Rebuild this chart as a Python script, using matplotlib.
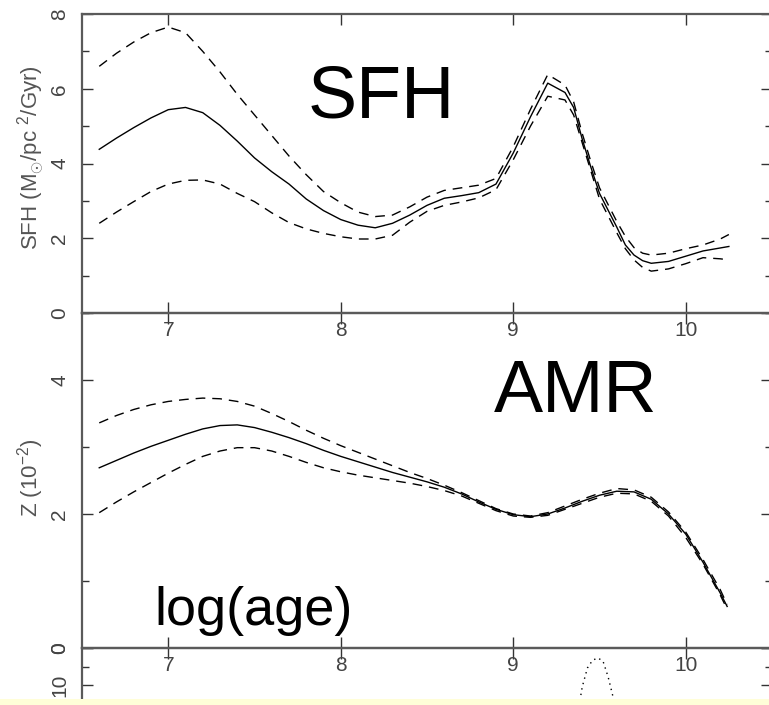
import matplotlib
matplotlib.use("Agg")
import matplotlib.pyplot as plt
from matplotlib.patches import Rectangle
from matplotlib.ticker import MultipleLocator

plt.rcParams["font.family"] = ["Liberation Sans", "DejaVu Sans"]
plt.rcParams["mathtext.fontset"] = "custom"
plt.rcParams["mathtext.rm"] = "Liberation Sans"
plt.rcParams["mathtext.it"] = "Liberation Sans"
plt.rcParams["lines.scale_dashes"] = False

# ---- star formation history (M_sun / pc^2 / Gyr) vs log(age) ----
sfh_x = [6.60, 6.70, 6.80, 6.90, 7.00, 7.10, 7.20, 7.30, 7.40, 7.50, 7.60, 7.70,
         7.80, 7.90, 8.00, 8.10, 8.20, 8.30, 8.40, 8.50, 8.60, 8.70, 8.80, 8.90,
         9.00, 9.10, 9.20, 9.30, 9.35, 9.40, 9.45, 9.50, 9.55, 9.60, 9.65, 9.70,
         9.75, 9.80, 9.90, 10.00, 10.10, 10.20, 10.25]
sfh_mid = [4.38, 4.68, 4.96, 5.22, 5.44, 5.50, 5.36, 5.02, 4.60, 4.15, 3.78, 3.45,
           3.05, 2.74, 2.50, 2.35, 2.28, 2.40, 2.62, 2.88, 3.07, 3.14, 3.22, 3.45,
           4.28, 5.25, 6.15, 5.90, 5.50, 4.65, 3.90, 3.20, 2.75, 2.30, 1.82, 1.55,
           1.40, 1.33, 1.38, 1.52, 1.66, 1.74, 1.78]
sfh_hi = [6.60, 6.95, 7.25, 7.50, 7.65, 7.50, 7.00, 6.45, 5.85, 5.30, 4.75, 4.20,
          3.70, 3.25, 2.95, 2.70, 2.58, 2.62, 2.84, 3.10, 3.28, 3.35, 3.42, 3.60,
          4.45, 5.45, 6.38, 6.10, 5.65, 4.80, 4.05, 3.35, 2.90, 2.45, 2.05, 1.75,
          1.60, 1.55, 1.60, 1.72, 1.82, 1.98, 2.10]
sfh_lo = [2.40, 2.70, 2.98, 3.25, 3.45, 3.55, 3.56, 3.45, 3.20, 2.98, 2.68, 2.42,
          2.25, 2.13, 2.04, 1.98, 1.98, 2.08, 2.43, 2.72, 2.88, 2.97, 3.08, 3.30,
          4.10, 5.00, 5.80, 5.70, 5.30, 4.55, 3.80, 3.05, 2.60, 2.15, 1.72, 1.42,
          1.22, 1.12, 1.18, 1.32, 1.48, 1.45, 1.42]

# ---- age-metallicity relation, Z in units of 1e-2 ----
amr_x = [6.60, 6.70, 6.80, 6.90, 7.00, 7.10, 7.20, 7.30, 7.40, 7.50, 7.60, 7.70,
         7.80, 7.90, 8.00, 8.10, 8.20, 8.30, 8.40, 8.50, 8.60, 8.70, 8.80, 8.90,
         9.00, 9.10, 9.20, 9.30, 9.40, 9.50, 9.60, 9.70, 9.80, 9.90, 10.00, 10.10,
         10.20, 10.24]
amr_mid = [2.69, 2.80, 2.91, 3.01, 3.10, 3.19, 3.27, 3.32, 3.33, 3.29, 3.22, 3.14,
           3.05, 2.95, 2.86, 2.78, 2.70, 2.62, 2.55, 2.48, 2.40, 2.30, 2.18, 2.07,
           1.99, 1.96, 2.00, 2.09, 2.19, 2.28, 2.34, 2.33, 2.22, 2.00, 1.70, 1.28,
           0.82, 0.62]
amr_hi = [3.36, 3.47, 3.56, 3.63, 3.68, 3.71, 3.73, 3.72, 3.68, 3.61, 3.50, 3.38,
          3.25, 3.13, 3.02, 2.92, 2.82, 2.72, 2.62, 2.53, 2.43, 2.32, 2.20, 2.08,
          2.00, 1.97, 2.02, 2.12, 2.22, 2.31, 2.38, 2.36, 2.25, 2.03, 1.73, 1.32,
          0.87, 0.65]
amr_lo = [2.02, 2.18, 2.33, 2.47, 2.61, 2.74, 2.86, 2.94, 2.99, 2.99, 2.94, 2.86,
          2.77, 2.69, 2.63, 2.58, 2.54, 2.50, 2.46, 2.41, 2.35, 2.27, 2.16, 2.05,
          1.97, 1.95, 1.98, 2.07, 2.16, 2.25, 2.31, 2.30, 2.19, 1.97, 1.65, 1.25,
          0.79, 0.58]

# ---- third panel (inverted axis) ----
low_x = [9.38, 9.40, 9.43, 9.46, 9.49, 9.52, 9.55, 9.58, 9.60]
low_y = [16.0, 10.5, 5.4, 3.3, 2.7, 3.5, 7.8, 13.5, 18.0]

xticks = [7, 8, 9, 10]

W, H = 769, 705
fig = plt.figure(figsize=(W / 100, H / 100), dpi=100)
fig.patch.set_facecolor("white")

spine_col = "#5a5a5a"
text_col = "#444444"
left, right = 82, 772


def px_axes(top, bottom, z):
    ax = fig.add_axes([left / W, 1 - bottom / H, (right - left) / W, (bottom - top) / H])
    ax.set_zorder(z)
    ax.patch.set_visible(False)
    return ax


def style(ax, yticks, yminor):
    for s in ax.spines.values():
        s.set_color(spine_col)
        s.set_linewidth(1.6)
    ax.set_xlim(6.5, 10.5)
    ax.set_xticks(xticks)
    ax.set_yticks(yticks)
    ax.yaxis.set_minor_locator(MultipleLocator(yminor))
    ax.tick_params(which="both", direction="in", top=True, right=True,
                   color="#333333", labelcolor=text_col, labelsize=15)
    ax.tick_params(which="major", length=8, width=1.0)
    ax.tick_params(which="minor", length=5, width=1.0)
    ax.tick_params(axis="x", pad=6)
    ax.tick_params(axis="y", pad=9)
    for lab in ax.get_yticklabels():
        lab.set_rotation(90)
        lab.set_va("center")
        lab.set_ha("right")


dash = (0, (7, 5))
lw = 1.0

# Top: SFH
ax1 = px_axes(14, 313, 3)
ax1.plot(sfh_x, sfh_mid, color="black", lw=lw)
ax1.plot(sfh_x, sfh_hi, color="black", lw=lw, linestyle=dash)
ax1.plot(sfh_x, sfh_lo, color="black", lw=lw, linestyle=dash)
ax1.set_ylim(0, 8)
style(ax1, [0, 2, 4, 6, 8], 1)

# Middle: AMR
ax2 = px_axes(313, 648, 2)
ax2.plot(amr_x, amr_mid, color="black", lw=lw)
ax2.plot(amr_x, amr_hi, color="black", lw=lw, linestyle=dash)
ax2.plot(amr_x, amr_lo, color="black", lw=lw, linestyle=dash)
ax2.set_ylim(0, 5)
style(ax2, [0, 2, 4], 1)

# Bottom: partially visible, inverted scale
ax3 = px_axes(648, 759, 1)
ax3.plot(low_x, low_y, color="black", lw=1.0, linestyle=(0, (1, 3)))
ax3.set_ylim(30, 0)
style(ax3, [0, 10], 5)
ax3.tick_params(axis="x", labelbottom=False)

# Axis titles
fig.text(31 / W, 1 - 158 / H, r"SFH (M$_{\odot}$/pc $^{2}$/Gyr)", rotation=90,
         ha="center", va="center", fontsize=16, color="#555555")
fig.text(31 / W, 1 - 478 / H, r"Z (10$^{-2}$)", rotation=90,
         ha="center", va="center", fontsize=16, color="#555555")

# Big annotations
fig.text(308 / W, 1 - 118 / H, "SFH", fontsize=53, color="black", ha="left", va="baseline")
fig.text(494 / W, 1 - 412 / H, "AMR", fontsize=53, color="black", ha="left", va="baseline")
fig.text(154 / W, 1 - 625 / H, "log(age)", fontsize=39, color="black", ha="left", va="baseline")

# Pale strip along the bottom edge
fig.patches.append(Rectangle((0, 0), 1, 6 / H, transform=fig.transFigure,
                             facecolor="#fffed8", edgecolor="none", zorder=10))

fig.savefig("out.png", dpi=100)
